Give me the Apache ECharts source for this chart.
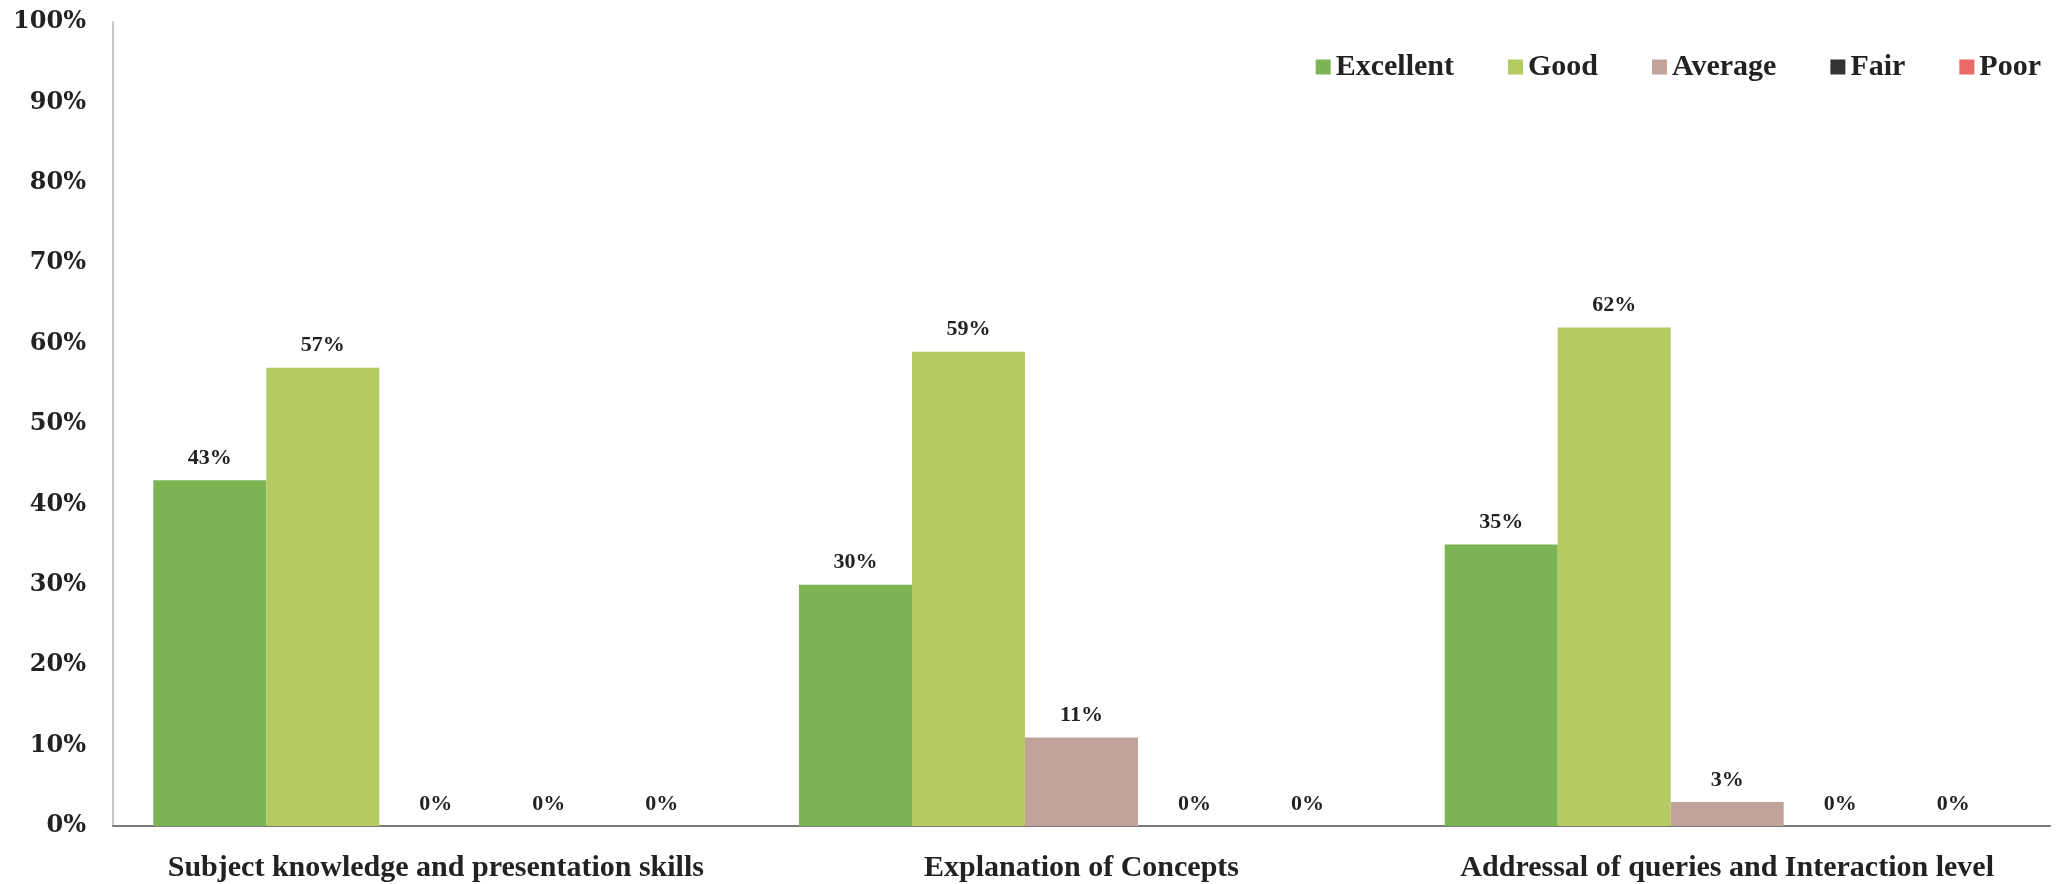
<!DOCTYPE html>
<html>
<head>
<meta charset="utf-8">
<script src="https://cdn.jsdelivr.net/npm/echarts@6/dist/echarts.min.js"></script>
<style>
html,body{margin:0;padding:0;background:#fff;}
#chart{width:2068px;height:884px;}
</style>
</head>
<body>
<div id="chart"></div>
<script>
const categories = ["Subject knowledge and presentation skills", "Explanation of Concepts", "Addressal of queries and Interaction level"];
const excellent = [43, 30, 35];
const good = [57, 59, 62];
const average = [0, 11, 3];
const fair = [0, 0, 0];
const poor = [0, 0, 0];
const yTicks = [0, 10, 20, 30, 40, 50, 60, 70, 80, 90, 100];

const seriesDefs = [
  {name: "Excellent", data: excellent, color: "#7bb553"},
  {name: "Good", data: good, color: "#b3cb61"},
  {name: "Average", data: average, color: "#c1a39b"},
  {name: "Fair", data: fair, color: "#333333"},
  {name: "Poor", data: poor, color: "#ea6a6a"}
];

const chart = echarts.init(document.getElementById('chart'));
chart.setOption({
  backgroundColor: '#ffffff',
  animation: false,
  legend: {
    right: 22,
    top: 47,
    itemWidth: 15,
    itemHeight: 15,
    itemGap: 54,
    icon: 'rect',
    textStyle: {fontFamily: 'Liberation Serif', fontWeight: 'bold', fontSize: 30, color: '#222'},
    data: seriesDefs.map(s => s.name)
  },
  grid: {left: 113, right: 18, top: 22, bottom: 58, containLabel: false},
  xAxis: {
    type: 'category',
    data: categories,
    axisLine: {lineStyle: {color: '#7a7a7a', width: 2}},
    axisTick: {show: false},
    axisLabel: {margin: 27, fontFamily: 'Liberation Serif', fontWeight: 'bold', fontSize: 30, color: '#222', interval: 0}
  },
  yAxis: {
    type: 'value',
    min: yTicks[0],
    max: yTicks[yTicks.length - 1],
    interval: 10,
    axisLine: {show: true, lineStyle: {color: '#c8c8c8', width: 2}},
    axisTick: {show: false},
    splitLine: {show: false},
    axisLabel: {margin: 27, formatter: '{value}%', fontFamily: 'DejaVu Serif', fontWeight: 'bold', fontSize: 24, color: '#222'}
  },
  series: seriesDefs.map(s => ({
    name: s.name,
    type: 'bar',
    data: s.data,
    barGap: '0%',
    barCategoryGap: '12.5%',
    itemStyle: {color: s.color},
    label: {
      show: true,
      position: 'top',
      distance: 11,
      formatter: '{c}%',
      fontFamily: 'Liberation Serif',
      fontWeight: 'bold',
      fontSize: 22,
      color: '#222'
    }
  }))
});
</script>
</body>
</html>
